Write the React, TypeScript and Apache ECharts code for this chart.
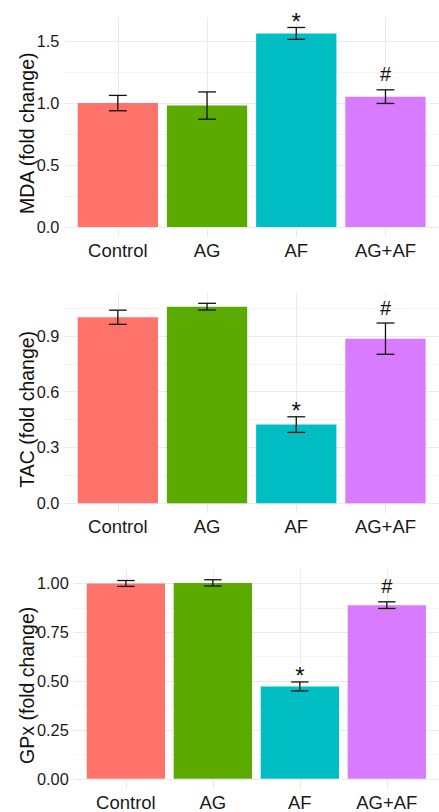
import React, { useEffect, useRef } from "react";
import * as echarts from "echarts";

// ---- data ----
const categories = ["Control", "AG", "AF", "AG+AF"];
const barColors = ["#FF736B", "#5BAA00", "#00BEC4", "#D87BFF"];
const marks = ["", "", "*", "#"];

const mdaMean = [1.0, 0.98, 1.562, 1.052];
const mdaErr = [0.062, 0.11, 0.048, 0.055];
const tacMean = [1.0, 1.057, 0.423, 0.885];
const tacErr = [0.038, 0.018, 0.042, 0.084];
const gpxMean = [1.0, 1.003, 0.473, 0.889];
const gpxErr = [0.015, 0.016, 0.023, 0.017];

const mdaTicks = [0, 0.5, 1.0, 1.5];
const mdaMinor = [0.25, 0.75, 1.25];
const tacTicks = [0, 0.3, 0.6, 0.9];
const tacMinor = [0.15, 0.45, 0.75, 1.05];
const gpxTicks = [0, 0.25, 0.5, 0.75, 1.0];
const gpxMinor = [0.125, 0.375, 0.625, 0.875];

const panels = [
  { title: "MDA (fold change)", mean: mdaMean, err: mdaErr, ticks: mdaTicks, minor: mdaMinor, digits: 1 },
  { title: "TAC (fold change)", mean: tacMean, err: tacErr, ticks: tacTicks, minor: tacMinor, digits: 1 },
  { title: "GPx (fold change)", mean: gpxMean, err: gpxErr, ticks: gpxTicks, minor: gpxMinor, digits: 2 },
];

// layout (pixels)
const layout = [
  { left: 64.3, top: 17.5, width: 383, height: 219.5, nameGap: 27 },
  { left: 64.3, top: 293.3, width: 383, height: 220, nameGap: 27 },
  { left: 73.7, top: 569.8, width: 373, height: 219, nameGap: 37 },
];

const FONT = "'Liberation Sans', Arial, Helvetica, sans-serif";

function buildOption() {
  const grid: any[] = [];
  const xAxis: any[] = [];
  const yAxis: any[] = [];
  const series: any[] = [];
  panels.forEach((p, i) => {
    const L = layout[i];
    const hiMax = Math.max(...p.mean.map((m, k) => m + p.err[k]));
    const yMax = hiMax * 1.05;
    const yMin = -hiMax * 0.05;
    grid.push({ left: L.left, top: L.top, width: L.width, height: L.height, containLabel: false });
    xAxis.push({
      type: "value",
      gridIndex: i,
      min: 0.4,
      max: 4.6,
      axisLine: { show: false, onZero: false },
      axisTick: { show: false, customValues: [1, 2, 3, 4] },
      axisLabel: {
        customValues: [1, 2, 3, 4],
        formatter: (v: number) => categories[Math.round(v) - 1] ?? "",
        fontSize: 18.5,
        color: "#1a1a1a",
        fontFamily: FONT,
        margin: 4,
      },
      splitLine: { show: true, lineStyle: { color: "#ebebeb", width: 1 } },
    });
    yAxis.push({
      type: "value",
      gridIndex: i,
      min: yMin,
      max: yMax,
      position: "left",
      name: p.title,
      nameLocation: "middle",
      nameGap: L.nameGap,
      nameRotate: 90,
      nameMoveOverlap: false,
      nameTextStyle: { fontSize: 19.5, color: "#111", fontFamily: FONT, padding: [0, 12, 0, 0] },
      axisLine: { show: false, onZero: false },
      axisTick: { show: false, customValues: p.ticks },
      axisLabel: {
        customValues: p.ticks,
        formatter: (v: number) => v.toFixed(p.digits),
        fontSize: 16.3,
        color: "#1a1a1a",
        fontFamily: FONT,
        margin: 5,
      },
      splitLine: { show: true, lineStyle: { color: "#ebebeb", width: 1 } },
    });
    yAxis.push({
      type: "value",
      gridIndex: i,
      min: yMin,
      max: yMax,
      position: "right",
      axisLine: { show: false, onZero: false },
      axisTick: { show: false, customValues: p.minor },
      axisLabel: { show: false },
      splitLine: { show: true, lineStyle: { color: "#f3f3f3", width: 0.8 } },
    });
    const data = p.mean.map((m, k) => [k + 1, m, m - p.err[k], m + p.err[k], k]);
    series.push({
      type: "custom",
      xAxisIndex: i,
      yAxisIndex: 2 * i,
      data,
      clip: false,
      renderItem: (params: any, api: any) => {
        const x = api.value(0);
        const v = api.value(1);
        const lo = api.value(2);
        const hi = api.value(3);
        const k = api.value(4);
        const base = api.coord([x, 0]);
        const top = api.coord([x, v]);
        const w = api.size([0.9, 0])[0];
        const cap = api.size([0.2, 0])[0];
        const pLo = api.coord([x, lo]);
        const pHi = api.coord([x, hi]);
        const lineStyle = { stroke: "#111", lineWidth: 1.3 };
        const children: any[] = [
          {
            type: "rect",
            shape: { x: base[0] - w / 2, y: top[1], width: w, height: base[1] - top[1] },
            style: { fill: barColors[k] },
          },
          { type: "line", shape: { x1: pLo[0], y1: pLo[1], x2: pHi[0], y2: pHi[1] }, style: lineStyle },
          { type: "line", shape: { x1: pLo[0] - cap / 2, y1: pLo[1], x2: pLo[0] + cap / 2, y2: pLo[1] }, style: lineStyle },
          { type: "line", shape: { x1: pHi[0] - cap / 2, y1: pHi[1], x2: pHi[0] + cap / 2, y2: pHi[1] }, style: lineStyle },
        ];
        const m = marks[k];
        if (m) {
          const star = m === "*";
          children.push({
            type: "text",
            style: {
              text: m,
              x: pHi[0],
              y: pHi[1] - (star ? 6 : 15.5),
              align: "center",
              verticalAlign: "middle",
              fontSize: star ? 24 : 20,
              fontFamily: FONT,
              fill: "#111",
            },
          });
        }
        return { type: "group", children };
      },
    });
  });
  return {
    animation: false,
    backgroundColor: "#ffffff",
    grid,
    xAxis,
    yAxis,
    series,
  };
}

export default function App() {
  const ref = useRef<HTMLDivElement>(null);
  useEffect(() => {
    if (!ref.current) return;
    const chart = echarts.init(ref.current, undefined, { renderer: "svg" });
    chart.setOption(buildOption() as any);
    return () => chart.dispose();
  }, []);
  return (
    <div
      ref={ref}
      style={{ position: "absolute", left: 0, top: 0, width: 439, height: 812, overflow: "hidden", background: "#fff" }}
    />
  );
}
